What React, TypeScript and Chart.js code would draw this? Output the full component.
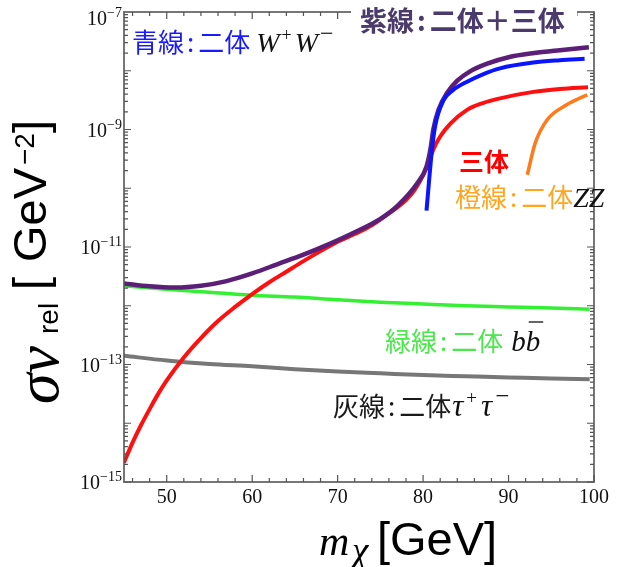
import React, { useEffect, useRef } from "react";
import { Chart, registerables } from "chart.js";

Chart.register(...registerables);

// ---- data (mass in GeV, sigma v in GeV^-2) ----
const massTotal = [45, 48, 51, 54, 57, 60, 63, 66, 69, 72, 75, 77, 79.3, 80.4, 80.9, 81.2, 81.8, 82.8, 84, 85.5, 87.5, 90, 93, 96, 99.4];
const sigmaTotal = [2.4e-12, 2.14e-12, 2.04e-12, 2.19e-12, 2.63e-12, 3.55e-12, 5.13e-12, 7.41e-12, 1.12e-11, 1.78e-11, 3.02e-11, 5.01e-11, 1.2e-10, 2.34e-10, 5.0e-10, 1.0e-9, 2.14e-9, 4.17e-9, 6.76e-9, 9.77e-9, 1.32e-8, 1.7e-8, 2.0e-8, 2.24e-8, 2.51e-8];

const massThree = [45, 46, 47, 48, 49, 50, 52, 54, 56, 58, 60, 62, 64, 66, 68, 70, 72, 74, 76, 78, 79, 80, 80.6, 81.2, 82, 83.2, 85.1, 87, 89, 92.9, 96, 99.3];
const sigmaThree = [2.14e-15, 4.68e-15, 9.33e-15, 1.74e-14, 3.16e-14, 5.37e-14, 1.32e-13, 2.82e-13, 5.5e-13, 9.55e-13, 1.58e-12, 2.51e-12, 3.8e-12, 5.75e-12, 8.51e-12, 1.23e-11, 1.66e-11, 2.34e-11, 3.72e-11, 6.31e-11, 9.33e-11, 1.66e-10, 2.63e-10, 4.57e-10, 7.59e-10, 1.26e-9, 2.14e-9, 2.82e-9, 3.39e-9, 4.37e-9, 4.9e-9, 5.25e-9];

const massWW = [80.4, 81, 81.4, 82.4, 83.5, 85.1, 87, 89, 92.9, 96, 98.9];
const sigmaWW = [4.17e-11, 3.98e-10, 1.12e-9, 3.16e-9, 4.68e-9, 6.46e-9, 8.71e-9, 1.1e-8, 1.38e-8, 1.51e-8, 1.6e-8];

const massZZ = [92.2, 93.1, 94.5, 96.8, 99.2];
const sigmaZZ = [1.7e-10, 5.75e-10, 1.45e-9, 2.63e-9, 3.89e-9];

const massBB = [45, 50, 55, 60, 65, 70, 75, 80, 85, 90, 95, 99.5];
const sigmaBB = [2.19e-12, 1.91e-12, 1.7e-12, 1.51e-12, 1.41e-12, 1.26e-12, 1.15e-12, 1.07e-12, 1.0e-12, 9.55e-13, 9.12e-13, 8.71e-13];

const massTau = [45, 50, 55, 60, 65, 70, 75, 80, 85, 90, 95, 99.5];
const sigmaTau = [1.41e-13, 1.17e-13, 1.02e-13, 9.33e-14, 8.32e-14, 7.59e-14, 7.08e-14, 6.61e-14, 6.31e-14, 6.03e-14, 5.75e-14, 5.62e-14];

const xTickLabels = [50, 60, 70, 80, 90, 100];
const yTickExponents = [-7, -9, -11, -13, -15];

const JP = "'Noto Sans CJK JP'";
const SERIF = "'Liberation Serif'";
const SANS = "'Liberation Sans'";

type Run = { t: string; font: string; color: string; dy?: number; dx?: number };

function drawRuns(ctx: CanvasRenderingContext2D, x: number, y: number, runs: Run[]) {
  let cx = x;
  for (const r of runs) {
    ctx.font = r.font;
    ctx.fillStyle = r.color;
    cx += r.dx ?? 0;
    ctx.fillText(r.t, cx, y + (r.dy ?? 0));
    cx += ctx.measureText(r.t).width;
  }
  return cx;
}

// Japanese label "XX:YY" with airy colon
function jpRuns(a: string, b: string, font: string, color: string): Run[] {
  return [
    { t: a, font, color },
    { t: ":", font, color, dx: 3 },
    { t: b, font, color, dx: 4 },
  ];
}

const pts = (xs: number[], ys: number[]) => xs.map((x, i) => ({ x, y: ys[i] }));

const overlay = {
  id: "overlay",
  afterDraw(chart: any) {
    const ctx: CanvasRenderingContext2D = chart.ctx;
    const { left, right, top, bottom } = chart.chartArea;
    const xs = chart.scales.x;
    const ys = chart.scales.y;
    ctx.save();
    ctx.textBaseline = "alphabetic";
    // frame
    ctx.strokeStyle = "#555";
    ctx.lineWidth = 1.6;
    ctx.strokeRect(left, top, right - left, bottom - top);
    ctx.lineWidth = 1.2;
    // x ticks
    for (let v = 46; v <= 100; v += 2) {
      const px = xs.getPixelForValue(v);
      const len = v % 10 === 0 ? 7 : 4;
      ctx.beginPath();
      ctx.moveTo(px, bottom);
      ctx.lineTo(px, bottom - len);
      ctx.moveTo(px, top);
      ctx.lineTo(px, top + len);
      ctx.stroke();
    }
    // y ticks
    for (let e = -15; e < -7; e++) {
      for (let m = 1; m <= 9; m++) {
        const py = ys.getPixelForValue(m * Math.pow(10, e));
        const len = m === 1 ? 7 : 4;
        ctx.beginPath();
        ctx.moveTo(left, py);
        ctx.lineTo(left + len, py);
        ctx.moveTo(right, py);
        ctx.lineTo(right - len, py);
        ctx.stroke();
      }
    }
    // x tick labels
    ctx.fillStyle = "#111";
    ctx.font = `20px ${SERIF}`;
    ctx.textAlign = "center";
    for (const v of xTickLabels) {
      ctx.fillText(String(v), xs.getPixelForValue(v), 503);
    }
    // y tick labels
    ctx.textAlign = "left";
    for (const e of yTickExponents) {
      const py = Math.max(ys.getPixelForValue(Math.pow(10, e)), 18);
      const sup = "\u2212" + String(-e);
      ctx.font = `14px ${SERIF}`;
      const wSup = ctx.measureText(sup).width;
      ctx.font = `20px ${SERIF}`;
      const wBase = ctx.measureText("10").width;
      const x0 = 122 - wSup - wBase;
      drawRuns(ctx, x0, py + 7, [
        { t: "10", font: `20px ${SERIF}`, color: "#111" },
        { t: sup, font: `14px ${SERIF}`, color: "#111", dy: -8 },
      ]);
    }
    // y axis title (rotated, pieces placed along the axis)
    ctx.save();
    ctx.translate(46, 404);
    ctx.rotate(-Math.PI / 2);
    ctx.fillStyle = "#000";
    ctx.font = `italic 62px ${SERIF}`;
    ctx.fillText("σv", 0, 12);
    ctx.font = `28px ${SANS}`;
    ctx.fillText("rel", 70, 12);
    ctx.font = `47px ${SANS}`;
    ctx.fillText("[", 114, 0);
    ctx.fillText("GeV", 142, 0);
    ctx.font = `28px ${SANS}`;
    ctx.fillText("\u22122", 239, -12);
    ctx.font = `47px ${SANS}`;
    ctx.fillText("]", 271, 0);
    ctx.restore();
    // x axis title
    ctx.fillStyle = "#000";
    ctx.font = `italic 42px ${SERIF}`;
    ctx.fillText("m", 319, 555);
    ctx.font = `italic 37px ${SERIF}`;
    ctx.fillText("χ", 352, 563);
    ctx.font = `47px ${SANS}`;
    ctx.fillText("[GeV]", 377, 555);

    // annotations
    const F = `26px ${JP}`;
    // blue label
    drawRuns(ctx, 132, 52, [
      ...jpRuns("青線", "二体", F, "#1a1aff"),
      { t: "W", font: `italic 28px ${SERIF}`, color: "#111", dx: 6 },
      { t: "+", font: `18px ${SERIF}`, color: "#111", dy: -11, dx: 2 },
      { t: "W", font: `italic 28px ${SERIF}`, color: "#111", dx: 3 },
      { t: "\u2212", font: `24px ${SERIF}`, color: "#111", dy: -11, dx: 2 },
    ]);
    // purple label with white box covering the frame
    ctx.fillStyle = "#fff";
    ctx.fillRect(351, 0, 226, 36);
    drawRuns(ctx, 360, 31, jpRuns("紫線", "二体＋三体", `bold 27px ${JP}`, "#4b3b6c"));
    // three-body label
    drawRuns(ctx, 459, 171, [{ t: "三体", font: `bold 25px ${JP}`, color: "#ff0000" }]);
    // orange label
    drawRuns(ctx, 455, 207, [
      ...jpRuns("橙線", "二体", F, "#ffa51f"),
      { t: "ZZ", font: `italic 28px ${SERIF}`, color: "#111" },
    ]);
    // green label
    const endB = drawRuns(ctx, 385, 351, [
      ...jpRuns("緑線", "二体", F, "#4de64d"),
      { t: "b", font: `italic 29px ${SERIF}`, color: "#111", dx: 8 },
    ]);
    ctx.font = `italic 29px ${SERIF}`;
    const wb = ctx.measureText("b").width;
    ctx.fillStyle = "#111";
    ctx.fillText("b", endB, 351);
    ctx.strokeStyle = "#111";
    ctx.lineWidth = 1.3;
    ctx.beginPath();
    ctx.moveTo(endB + 3, 322);
    ctx.lineTo(endB + wb + 3, 322);
    ctx.stroke();
    // gray label
    drawRuns(ctx, 333, 416, [
      ...jpRuns("灰線", "二体", F, "#1a1a1a"),
      { t: "τ", font: `italic 31px ${SERIF}`, color: "#111", dx: 1 },
      { t: "+", font: `19px ${SERIF}`, color: "#111", dy: -12, dx: 3 },
      { t: "τ", font: `italic 31px ${SERIF}`, color: "#111", dx: 4 },
      { t: "\u2212", font: `25px ${SERIF}`, color: "#111", dy: -12, dx: 3 },
    ]);
    ctx.restore();
  },
};

export default function App() {
  const ref = useRef<HTMLCanvasElement>(null);
  useEffect(() => {
    if (!ref.current) return;
    const line = (data: any, color: string, width: number) => ({
      data,
      borderColor: color,
      borderWidth: width,
      pointRadius: 0,
      fill: false,
      cubicInterpolationMode: "monotone" as const,
    });
    const chart = new Chart(ref.current, {
      type: "line",
      data: {
        datasets: [
          line(pts(massWW, sigmaWW), "#0a14ff", 4),
          line(pts(massTotal, sigmaTotal), "#5b1f78", 4.5),
          line(pts(massThree, sigmaThree), "#ff1010", 4),
          line(pts(massZZ, sigmaZZ), "#ff7a1a", 3.5),
          line(pts(massBB, sigmaBB), "#33f033", 3.5),
          line(pts(massTau, sigmaTau), "#777777", 4),
        ],
      },
      options: {
        animation: false,
        responsive: false,
        maintainAspectRatio: false,
        layout: { padding: { left: 124, top: 12, right: 35, bottom: 85 } },
        plugins: { legend: { display: false }, tooltip: { enabled: false } },
        scales: {
          x: { type: "linear", min: 45, max: 100, display: false },
          y: { type: "logarithmic", min: 1e-15, max: 1e-7, display: false },
        },
      },
      plugins: [overlay],
    });
    return () => chart.destroy();
  }, []);
  return (
    <div style={{ position: "absolute", left: 0, top: 0, width: 629, height: 567, background: "#fff" }}>
      <canvas ref={ref} width={629} height={567} style={{ width: 629, height: 567, display: "block" }} />
    </div>
  );
}
